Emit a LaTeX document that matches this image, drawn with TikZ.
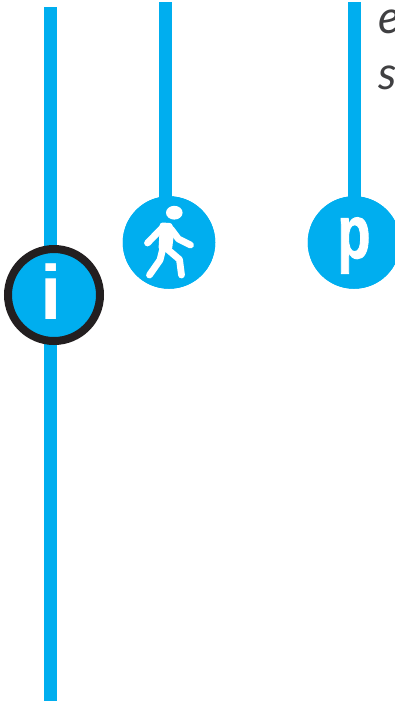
\documentclass[tikz,border=0pt]{standalone}
\usepackage{fontspec}
\setmainfont{Liberation Sans}
\newfontfamily\notefont{Lato}
\newfontfamily\pfont[FakeBold=1.6]{Liberation Sans Bold}
\definecolor{lineblue}{HTML}{00AEEF}
\definecolor{ringdark}{HTML}{231F20}
\definecolor{notegrey}{HTML}{404042}
\tikzset{
  x=1pt,y=-1pt,
  stem/.style={draw=lineblue,line width=13pt},
  stop/.style={circle,fill=lineblue,inner sep=0pt,minimum size=92.5pt},
  ringstop/.style={circle,fill=lineblue,draw=ringdark,line width=8pt,inner sep=0pt,minimum size=92pt},
  glyph/.style={text=white,inner sep=0pt,font=\fontsize{77}{77}\selectfont\bfseries},
  limb/.style={draw=white,line width=6.8pt,line cap=round,line join=round},
  note/.style={text=notegrey,inner sep=0pt,anchor=base west,font=\fontsize{46}{46}\selectfont\notefont\itshape}
}
\begin{document}
\begin{tikzpicture}
\useasboundingbox (0,0) rectangle (395,702);
\clip (0,0) rectangle (395,702);
\coordinate (itop) at (50.5,7);
\coordinate (ibot) at (50.5,701);
\coordinate (wtop) at (165,2);
\coordinate (ptop) at (354,2);
\node[stop] (walk) at (169,242.5) {};
\node[stop] (park) at (354,242.5) {};
\draw[stem] (itop) -- (ibot);
\draw[stem] (wtop) -- (165,200);
\draw[stem] (ptop) -- (park.center);
\node[stop] at (walk) {};
\node[stop] at (park) {};
\node[ringstop] (info) at (54,295) {};
\node[glyph,anchor=base] (ilabel) at (51,319) {i};
\node[text=white,inner sep=0pt,anchor=base,xscale=.72,font=\fontsize{75}{75}\selectfont\pfont] (plabel) at (354,258) {p};
% walking figure
\fill[white] (174.3,212.7) ellipse (8.3 and 6.9);
\fill[white,rounded corners=2.5pt] (160,222.5) -- (172,223) -- (174,233) -- (172,250) -- (158.5,250) -- cycle;
\draw[limb] (163.5,226.5) -- (147.5,243);
\draw[limb] (171,229) -- (178.5,239) -- (190.5,245);
\draw[limb] (163,248) -- (160,260) -- (149.5,275);
\draw[limb] (166,248) -- (179.5,259.5) -- (181.5,275);
\node[note] (noteone) at (378,33.5) {e};
\node[note] (notetwo) at (378,89) {s};
\end{tikzpicture}
\end{document}
